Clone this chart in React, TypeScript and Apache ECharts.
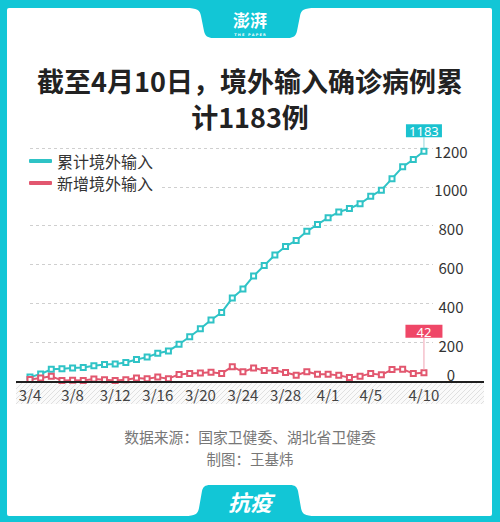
import React, { useEffect, useRef } from 'react';
import * as echarts from 'echarts';

const dates = [
  '3/4', '3/5', '3/6', '3/7', '3/8', '3/9', '3/10', '3/11', '3/12', '3/13',
  '3/14', '3/15', '3/16', '3/17', '3/18', '3/19', '3/20', '3/21', '3/22', '3/23',
  '3/24', '3/25', '3/26', '3/27', '3/28', '3/29', '3/30', '3/31', '4/1', '4/2',
  '4/3', '4/4', '4/5', '4/6', '4/7', '4/8', '4/9', '4/10',
];
const shownDates = ['3/4', '3/8', '3/12', '3/16', '3/20', '3/24', '3/28', '4/1', '4/5', '4/10'];
const cumulative = [
  20, 36, 60, 63, 67, 69, 79, 85, 88, 95,
  111, 123, 143, 155, 189, 228, 269, 314, 353, 427,
  474, 541, 595, 649, 693, 723, 771, 806, 841, 870,
  888, 913, 951, 983, 1042, 1103, 1141, 1183,
];
const daily = [
  8, 16, 24, 3, 4, 2, 10, 6, 3, 7,
  16, 12, 20, 12, 34, 39, 41, 45, 39, 74,
  47, 67, 54, 54, 44, 30, 48, 35, 35, 29,
  18, 25, 38, 32, 59, 61, 38, 42,
];
const seriesNames = ['累计境外输入', '新增境外输入'];
const yMin = 0;
const yMax = 1200;
const yStep = 200;

const FRAME = '#12c6d6';
const TEAL = '#2fc3c6';
const RED = '#e2576f';
const FONT = '"Noto Sans CJK SC", "Noto Sans", sans-serif';

let registered = false;
function registerShapes() {
  if (registered) return;
  registered = true;
  echarts.graphic.registerShape(
    'topTab',
    echarts.graphic.extendPath(
      'M186 8 C197 8 200 10 201 16 L204 31 C205 36 208 38 213 38 L288 38 C293 38 296 36 297 31 L300 16 C301 10 304 8 315 8 Z',
      {}
    )
  );
  echarts.graphic.registerShape(
    'bottomTab',
    echarts.graphic.extendPath(
      'M185 516 C195 516 198 514 199 508 L202 491 C203 487 205 485 210 485 L290 485 C295 485 297 487 298 491 L301 508 C302 514 305 516 315 516 Z',
      {}
    )
  );
}

export default function App() {
  const ref = useRef<HTMLDivElement>(null);

  useEffect(() => {
    if (!ref.current) return;
    registerShapes();
    const chart = echarts.init(ref.current, null, { renderer: 'svg' });

    const option: any = {
      animation: false,
      backgroundColor: FRAME,
      textStyle: { fontFamily: FONT },
      title: {
        text: '截至4月10日，境外输入确诊病例累\n计1183例',
        left: 'center',
        top: 57,
        textStyle: {
          fontSize: 27,
          lineHeight: 36,
          fontWeight: 'bold',
          color: '#222',
          fontFamily: FONT,
        },
      },
      legend: {
        data: seriesNames,
        orient: 'vertical',
        left: 24,
        top: 151,
        padding: [2, 6, 2, 5],
        backgroundColor: '#fff',
        itemWidth: 23,
        itemHeight: 4,
        itemGap: 6,
        icon: 'roundRect',
        itemStyle: { borderWidth: 0 },
        textStyle: { fontSize: 16, color: '#333', fontFamily: FONT },
      },
      grid: { left: 30, right: 67, top: 148, bottom: 141 },
      xAxis: {
        type: 'value',
        min: 0,
        max: 37.85,
        interval: 1,
        axisLine: { show: false },
        axisTick: { show: false },
        splitLine: { show: false },
        axisLabel: {
          margin: 6,
          color: '#444',
          fontSize: 15,
          fontFamily: FONT,
          formatter: (v: number) => {
            const d = dates[v];
            return d && shownDates.includes(d) ? d : '';
          },
        },
      },
      yAxis: {
        type: 'value',
        position: 'right',
        min: yMin,
        max: yMax,
        interval: yStep,
        axisLine: { show: false },
        axisTick: { show: false },
        splitLine: { lineStyle: { color: '#cfcfcf', type: [3, 3], width: 1 } },
        axisLabel: {
          margin: 18,
          align: 'center',
          color: '#333',
          fontSize: 15,
          fontFamily: FONT,
          padding: [6, 0, 0, 0],
          formatter: (v: number) => (v === 0 ? '{z|0}' : String(v)),
          rich: { z: { padding: [0, 0, 20, 0], fontSize: 15, color: '#333', fontFamily: FONT } },
        },
      },
      series: [
        {
          name: seriesNames[0],
          type: 'line',
          data: cumulative.map((v, i) => [i, v]),
          symbol: 'emptyRect',
          symbolSize: 5,
          itemStyle: { color: TEAL, borderWidth: 1.5 },
          lineStyle: { color: TEAL, width: 2 },
          z: 3,
        },
        {
          name: seriesNames[1],
          type: 'line',
          data: daily.map((v, i) => [i, v]),
          symbol: 'emptyRect',
          symbolSize: 5,
          itemStyle: { color: RED, borderWidth: 1.5 },
          lineStyle: { color: RED, width: 2 },
          z: 3,
        },
      ],
    };
    chart.setOption(option);

    const last = dates.length - 1;
    const pc = chart.convertToPixel({ gridIndex: 0 }, [last, cumulative[last]]) as number[];
    const pd = chart.convertToPixel({ gridIndex: 0 }, [last, daily[last]]) as number[];
    const p0 = chart.convertToPixel({ gridIndex: 0 }, [0, 0]) as number[];
    const axisY = p0[1] + 1;

    const cv = document.createElement('canvas');
    cv.width = 5;
    cv.height = 5;
    const ctx = cv.getContext('2d');
    if (ctx) {
      ctx.fillStyle = '#fafafa';
      ctx.fillRect(0, 0, 5, 5);
      ctx.strokeStyle = '#e0e0e0';
      ctx.lineWidth = 1;
      ctx.beginPath();
      ctx.moveTo(0, 5);
      ctx.lineTo(5, 0);
      ctx.moveTo(-1, 1);
      ctx.lineTo(1, -1);
      ctx.moveTo(4, 6);
      ctx.lineTo(6, 4);
      ctx.stroke();
    }

    const cBoxBottom = pc[1] - 14;
    const dBoxBottom = pd[1] - 35;

    chart.setOption({
      graphic: [
        {
          type: 'rect',
          z: -10,
          silent: true,
          shape: { x: 7, y: 8, width: 485, height: 508, r: 2 },
          style: { fill: '#fff' },
        },
        { type: 'topTab', z: -9, silent: true, shape: {}, style: { fill: FRAME } },
        { type: 'bottomTab', z: 10, silent: true, shape: {}, style: { fill: FRAME } },
        {
          type: 'text',
          z: 11,
          silent: true,
          style: {
            x: 250,
            y: 19,
            text: '澎湃',
            align: 'center',
            verticalAlign: 'middle',
            fill: '#fff',
            font: 'bold 17px "Noto Sans CJK SC"',
          },
        },
        {
          type: 'text',
          z: 11,
          silent: true,
          style: {
            x: 250,
            y: 35,
            text: 'T H E   P A P E R',
            align: 'center',
            verticalAlign: 'middle',
            fill: '#fff',
            font: 'bold 3.5px "DejaVu Sans"',
          },
        },
        {
          type: 'rect',
          z: -5,
          silent: true,
          shape: { x: 16, y: axisY + 1, width: 468, height: 21 },
          style: { fill: { image: cv, repeat: 'repeat', imageWidth: 5, imageHeight: 5 } as any },
        },
        {
          type: 'line',
          z: 5,
          silent: true,
          shape: { x1: 16, y1: axisY, x2: 484, y2: axisY },
          style: { stroke: '#1e1e1e', lineWidth: 2 },
        },
        {
          type: 'line',
          z: 5,
          silent: true,
          shape: { x1: pc[0], y1: pc[1] - 3, x2: pc[0], y2: cBoxBottom },
          style: { stroke: '#8fd7db', lineWidth: 1 },
        },
        {
          type: 'rect',
          z: 6,
          silent: true,
          shape: { x: pc[0] - 18, y: cBoxBottom - 13, width: 36, height: 13 },
          style: { fill: '#1bc2cf' },
        },
        {
          type: 'text',
          z: 7,
          silent: true,
          style: {
            x: pc[0],
            y: cBoxBottom - 6,
            text: String(cumulative[last]),
            align: 'center',
            verticalAlign: 'middle',
            fill: '#fff',
            font: '13px "Noto Sans"',
          },
        },
        {
          type: 'line',
          z: 5,
          silent: true,
          shape: { x1: pd[0], y1: pd[1] - 3, x2: pd[0], y2: dBoxBottom },
          style: { stroke: '#f0a3b2', lineWidth: 1 },
        },
        {
          type: 'rect',
          z: 6,
          silent: true,
          shape: { x: pd[0] - 18.5, y: dBoxBottom - 13, width: 37, height: 13 },
          style: { fill: '#ef4767' },
        },
        {
          type: 'text',
          z: 7,
          silent: true,
          style: {
            x: pd[0],
            y: dBoxBottom - 6,
            text: String(daily[last]),
            align: 'center',
            verticalAlign: 'middle',
            fill: '#fff',
            font: '13px "Noto Sans"',
          },
        },
        {
          type: 'text',
          silent: true,
          style: {
            x: 250,
            y: 436,
            text: '数据来源：国家卫健委、湖北省卫健委',
            align: 'center',
            verticalAlign: 'middle',
            fill: '#777',
            font: '14.8px "Noto Sans CJK SC"',
          },
        },
        {
          type: 'text',
          silent: true,
          style: {
            x: 250,
            y: 458,
            text: '制图：王基炜',
            align: 'center',
            verticalAlign: 'middle',
            fill: '#777',
            font: '14.5px "Noto Sans CJK SC"',
          },
        },
        {
          type: 'text',
          z: 11,
          silent: true,
          style: {
            x: 250,
            y: 501,
            text: '抗疫',
            align: 'center',
            verticalAlign: 'middle',
            fill: '#fff',
            font: 'italic bold 22px "Noto Sans CJK SC"',
          },
        },
      ],
    });

    return () => {
      chart.dispose();
    };
  }, []);

  return (
    <div
      ref={ref}
      style={{ position: 'fixed', left: 0, top: 0, width: 500, height: 522 }}
    />
  );
}
